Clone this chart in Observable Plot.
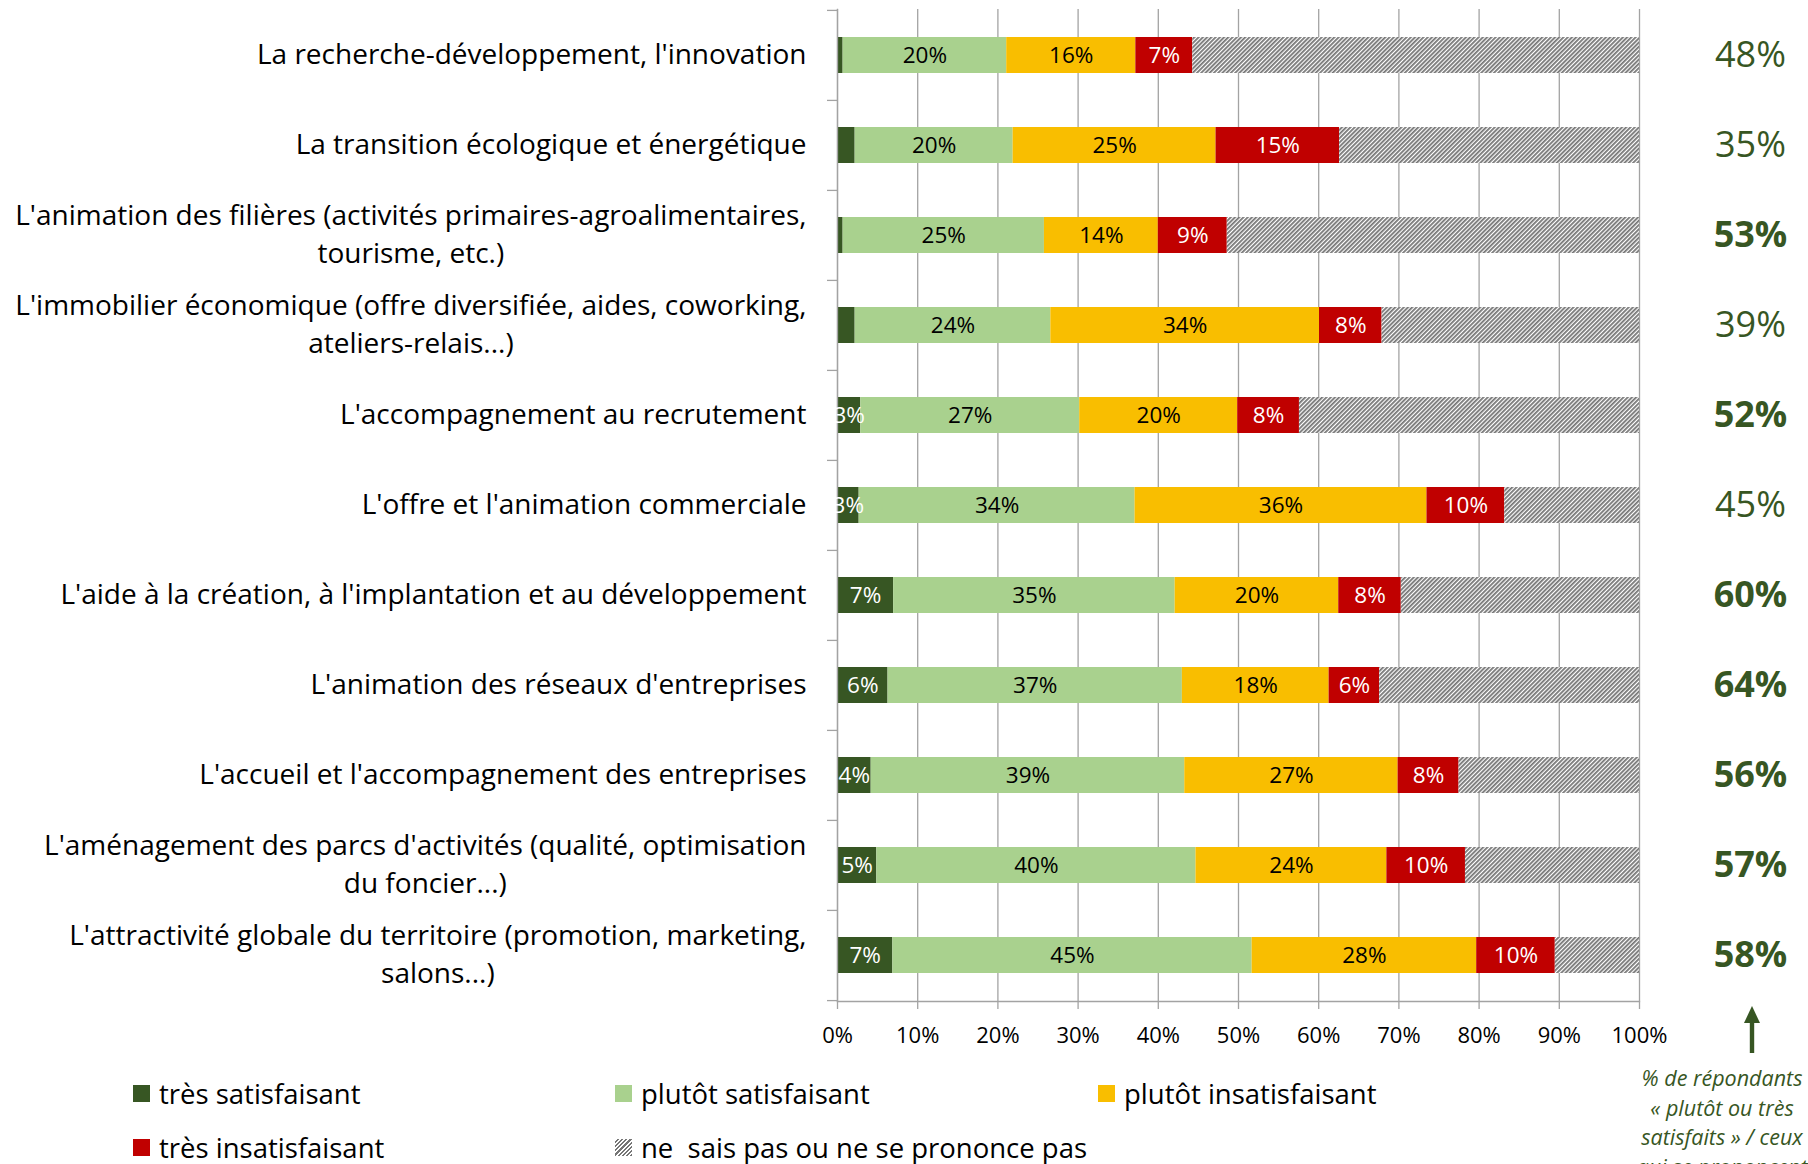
<!DOCTYPE html>
<html lang="fr">
<head>
<meta charset="utf-8">
<script src="https://cdn.jsdelivr.net/npm/d3@7"></script>
<script src="https://cdn.jsdelivr.net/npm/@observablehq/plot@0.6"></script>
<style>
  html, body { margin: 0; padding: 0; background: #fff; }
  body { position: relative; width: 1808px; height: 1164px; overflow: hidden; font-family: "Open Sans", sans-serif; }
  #chart { position: absolute; left: 0; top: 0; }
  #legend { position: absolute; left: 133px; top: 1066px; display: grid;
            grid-template-columns: 482px 483px auto; grid-auto-rows: 54px; }
  .item { display: flex; align-items: center; font-size: 27.5px; color: #000; white-space: pre; }
  .sw { width: 17px; height: 17px; margin-right: 9px; flex: none; }
  #note { position: absolute; left: 1612px; top: 1063px; width: 220px; text-align: center;
          font-size: 21.5px; line-height: 29.5px; font-style: italic; color: #375623; }
  #arrow { position: absolute; left: 1742px; top: 1005px; }
</style>
</head>
<body>
<div id="chart"></div>
<div id="legend"></div>
<svg id="arrow" width="20" height="50" viewBox="0 0 20 50">
  <polygon points="10,1 2,18 18,18" fill="#375623"/>
  <rect x="7.8" y="16" width="4.4" height="32" fill="#375623"/>
</svg>
<div id="note">% de répondants<br>« plutôt ou très<br>satisfaits » / ceux<br>qui se prononcent</div>
<script>
// ---------- data ----------
const categories = [
  "La recherche-développement, l'innovation",
  "La transition écologique et énergétique",
  "L'animation des filières (activités primaires-agroalimentaires,\ntourisme, etc.)",
  "L'immobilier économique (offre diversifiée, aides, coworking,\nateliers-relais...)",
  "L'accompagnement au recrutement",
  "L'offre et l'animation commerciale",
  "L'aide à la création, à l'implantation et au développement",
  "L'animation des réseaux d'entreprises",
  "L'accueil et l'accompagnement des entreprises",
  "L'aménagement des parcs d'activités (qualité, optimisation\ndu foncier...)",
  "L'attractivité globale du territoire (promotion, marketing,\nsalons...)"
];
const seriesNames = [
  "très satisfaisant",
  "plutôt satisfaisant",
  "plutôt insatisfaisant",
  "très insatisfaisant",
  "ne  sais pas ou ne se prononce pas"
];
const tresSatisfaisant     = [0.7, 2.2, 0.7, 2.2, 2.9, 2.7, 7.0, 6.3, 4.2, 4.9, 6.9];
const plutotSatisfaisant   = [20.4, 19.7, 25.1, 24.4, 27.3, 34.4, 35.1, 36.7, 39.1, 39.8, 44.8];
const plutotInsatisfaisant = [16.1, 25.3, 14.2, 33.5, 19.7, 36.4, 20.4, 18.3, 26.6, 23.8, 28.0];
const tresInsatisfaisant   = [7.1, 15.4, 8.6, 7.8, 7.7, 9.7, 7.8, 6.3, 7.6, 9.8, 9.8];
const nePrononcePas        = [55.7, 37.4, 51.4, 32.1, 42.4, 16.8, 29.7, 32.4, 22.5, 21.7, 10.5];
const satisfiedShare       = [48, 35, 53, 39, 52, 45, 60, 64, 56, 57, 58];
const xTicks = [0, 10, 20, 30, 40, 50, 60, 70, 80, 90, 100];

// ---------- styles ----------
const colors = ["#375623", "#A9D18E", "#F9BE00", "#C00000", "url(#hatch)"];
const gridColor = "#a3a3a3";
const darkGreen = "#375623";

const seriesValues = [tresSatisfaisant, plutotSatisfaisant, plutotInsatisfaisant, tresInsatisfaisant, nePrononcePas];
const rows = categories.flatMap((c, i) => seriesValues.map((vals, s) => ({category: c, series: seriesNames[s], value: vals[i]})));
const pctRows = categories.map((c, i) => ({category: c, pct: satisfiedShare[i]}));

const W = 1808, H = 1058, mL = 837, mR = 169, mT = 9, mB = 57;
const step = (H - mT - mB) / categories.length;

const whiteText = d => ((d.series === seriesNames[0] && d.value >= 2.5) || d.series === seriesNames[3]) ? Math.round(d.value) + "%" : "";
const blackText = d => (d.series === seriesNames[1] || d.series === seriesNames[2]) ? Math.round(d.value) + "%" : "";

const svg = Plot.plot({
  width: W, height: H,
  marginLeft: mL, marginRight: mR, marginTop: mT, marginBottom: mB,
  style: {fontFamily: "'Open Sans', sans-serif", background: "white", color: "black", overflow: "visible"},
  x: {domain: [0, 100], label: null},
  y: {domain: categories, paddingInner: 0.6, paddingOuter: 0.3, label: null},
  color: {domain: seriesNames, range: colors},
  marks: [
    Plot.gridX(xTicks, {stroke: gridColor, strokeOpacity: 1, strokeWidth: 1.3}),
    Plot.barX(rows, Plot.stackX({x: "value", y: "category", fill: "series", order: seriesNames})),
    Plot.frame({anchor: "left", stroke: gridColor, strokeWidth: 1.3}),
    Plot.frame({anchor: "bottom", stroke: gridColor, strokeWidth: 1.3}),
    Plot.axisX(xTicks, {tickFormat: d => d + "%", tickSize: 8, tickPadding: 18, fontSize: 22, stroke: gridColor, strokeWidth: 1.3, label: null}),
    Plot.axisY({tickSize: 0, tickPadding: 31, fontSize: 28, lineHeight: 1.34, dy: -3.5, label: null}),
    Plot.axisY({tickSize: 10, tickFormat: () => "", dy: -step / 2, stroke: gridColor, strokeWidth: 1.3, label: null}),
    Plot.axisY([categories[categories.length - 1]], {tickSize: 10, tickFormat: () => "", dy: step / 2, stroke: gridColor, strokeWidth: 1.3, label: null}),
    Plot.text(rows, Plot.stackX({x: "value", y: "category", z: "series", order: seriesNames, text: whiteText, fill: "white", fontSize: 22.5})),
    Plot.text(rows, Plot.stackX({x: "value", y: "category", z: "series", order: seriesNames, text: blackText, fill: "black", fontSize: 22.5})),
    Plot.text(pctRows, {filter: d => d.pct >= 50, y: "category", text: d => d.pct + "%", frameAnchor: "right", dx: 111, textAnchor: "middle", fill: darkGreen, fontSize: 36, fontWeight: "bold"}),
    Plot.text(pctRows, {filter: d => d.pct < 50, y: "category", text: d => d.pct + "%", frameAnchor: "right", dx: 111, textAnchor: "middle", fill: darkGreen, fontSize: 36})
  ]
});

// hatch pattern
const NS = "http://www.w3.org/2000/svg";
const defs = document.createElementNS(NS, "defs");
defs.innerHTML = `<pattern id="hatch" patternUnits="userSpaceOnUse" width="3" height="3" patternTransform="rotate(45)">
  <rect width="3" height="3" fill="#ffffff"/><rect width="1.8" height="3" fill="#767676"/></pattern>`;
svg.insertBefore(defs, svg.firstChild);

document.getElementById("chart").appendChild(svg);

// center the lines of multi-line category labels, keeping the block right-aligned
svg.querySelectorAll('g[aria-label="y-axis tick label"] text').forEach(t => {
  if (t.querySelectorAll("tspan").length > 1) {
    const b1 = t.getBBox();
    const right = b1.x + b1.width;
    t.setAttribute("text-anchor", "middle");
    const b2 = t.getBBox();
    const shift = right - (b2.x + b2.width);
    t.setAttribute("transform", (t.getAttribute("transform") || "") + ` translate(${shift},0)`);
  }
});

// legend
const legend = document.getElementById("legend");
[0, 1, 2, 3, 4].forEach(i => {
  const item = document.createElement("div");
  item.className = "item";
  const sw = document.createElement("span");
  sw.className = "sw";
  sw.style.background = i === 4
    ? "repeating-linear-gradient(-45deg, #767676 0 1.5px, #ffffff 1.5px 3px)"
    : colors[i];
  item.appendChild(sw);
  const label = document.createElement("span");
  label.textContent = seriesNames[i];
  item.appendChild(label);
  legend.appendChild(item);
});
</script>
</body>
</html>
